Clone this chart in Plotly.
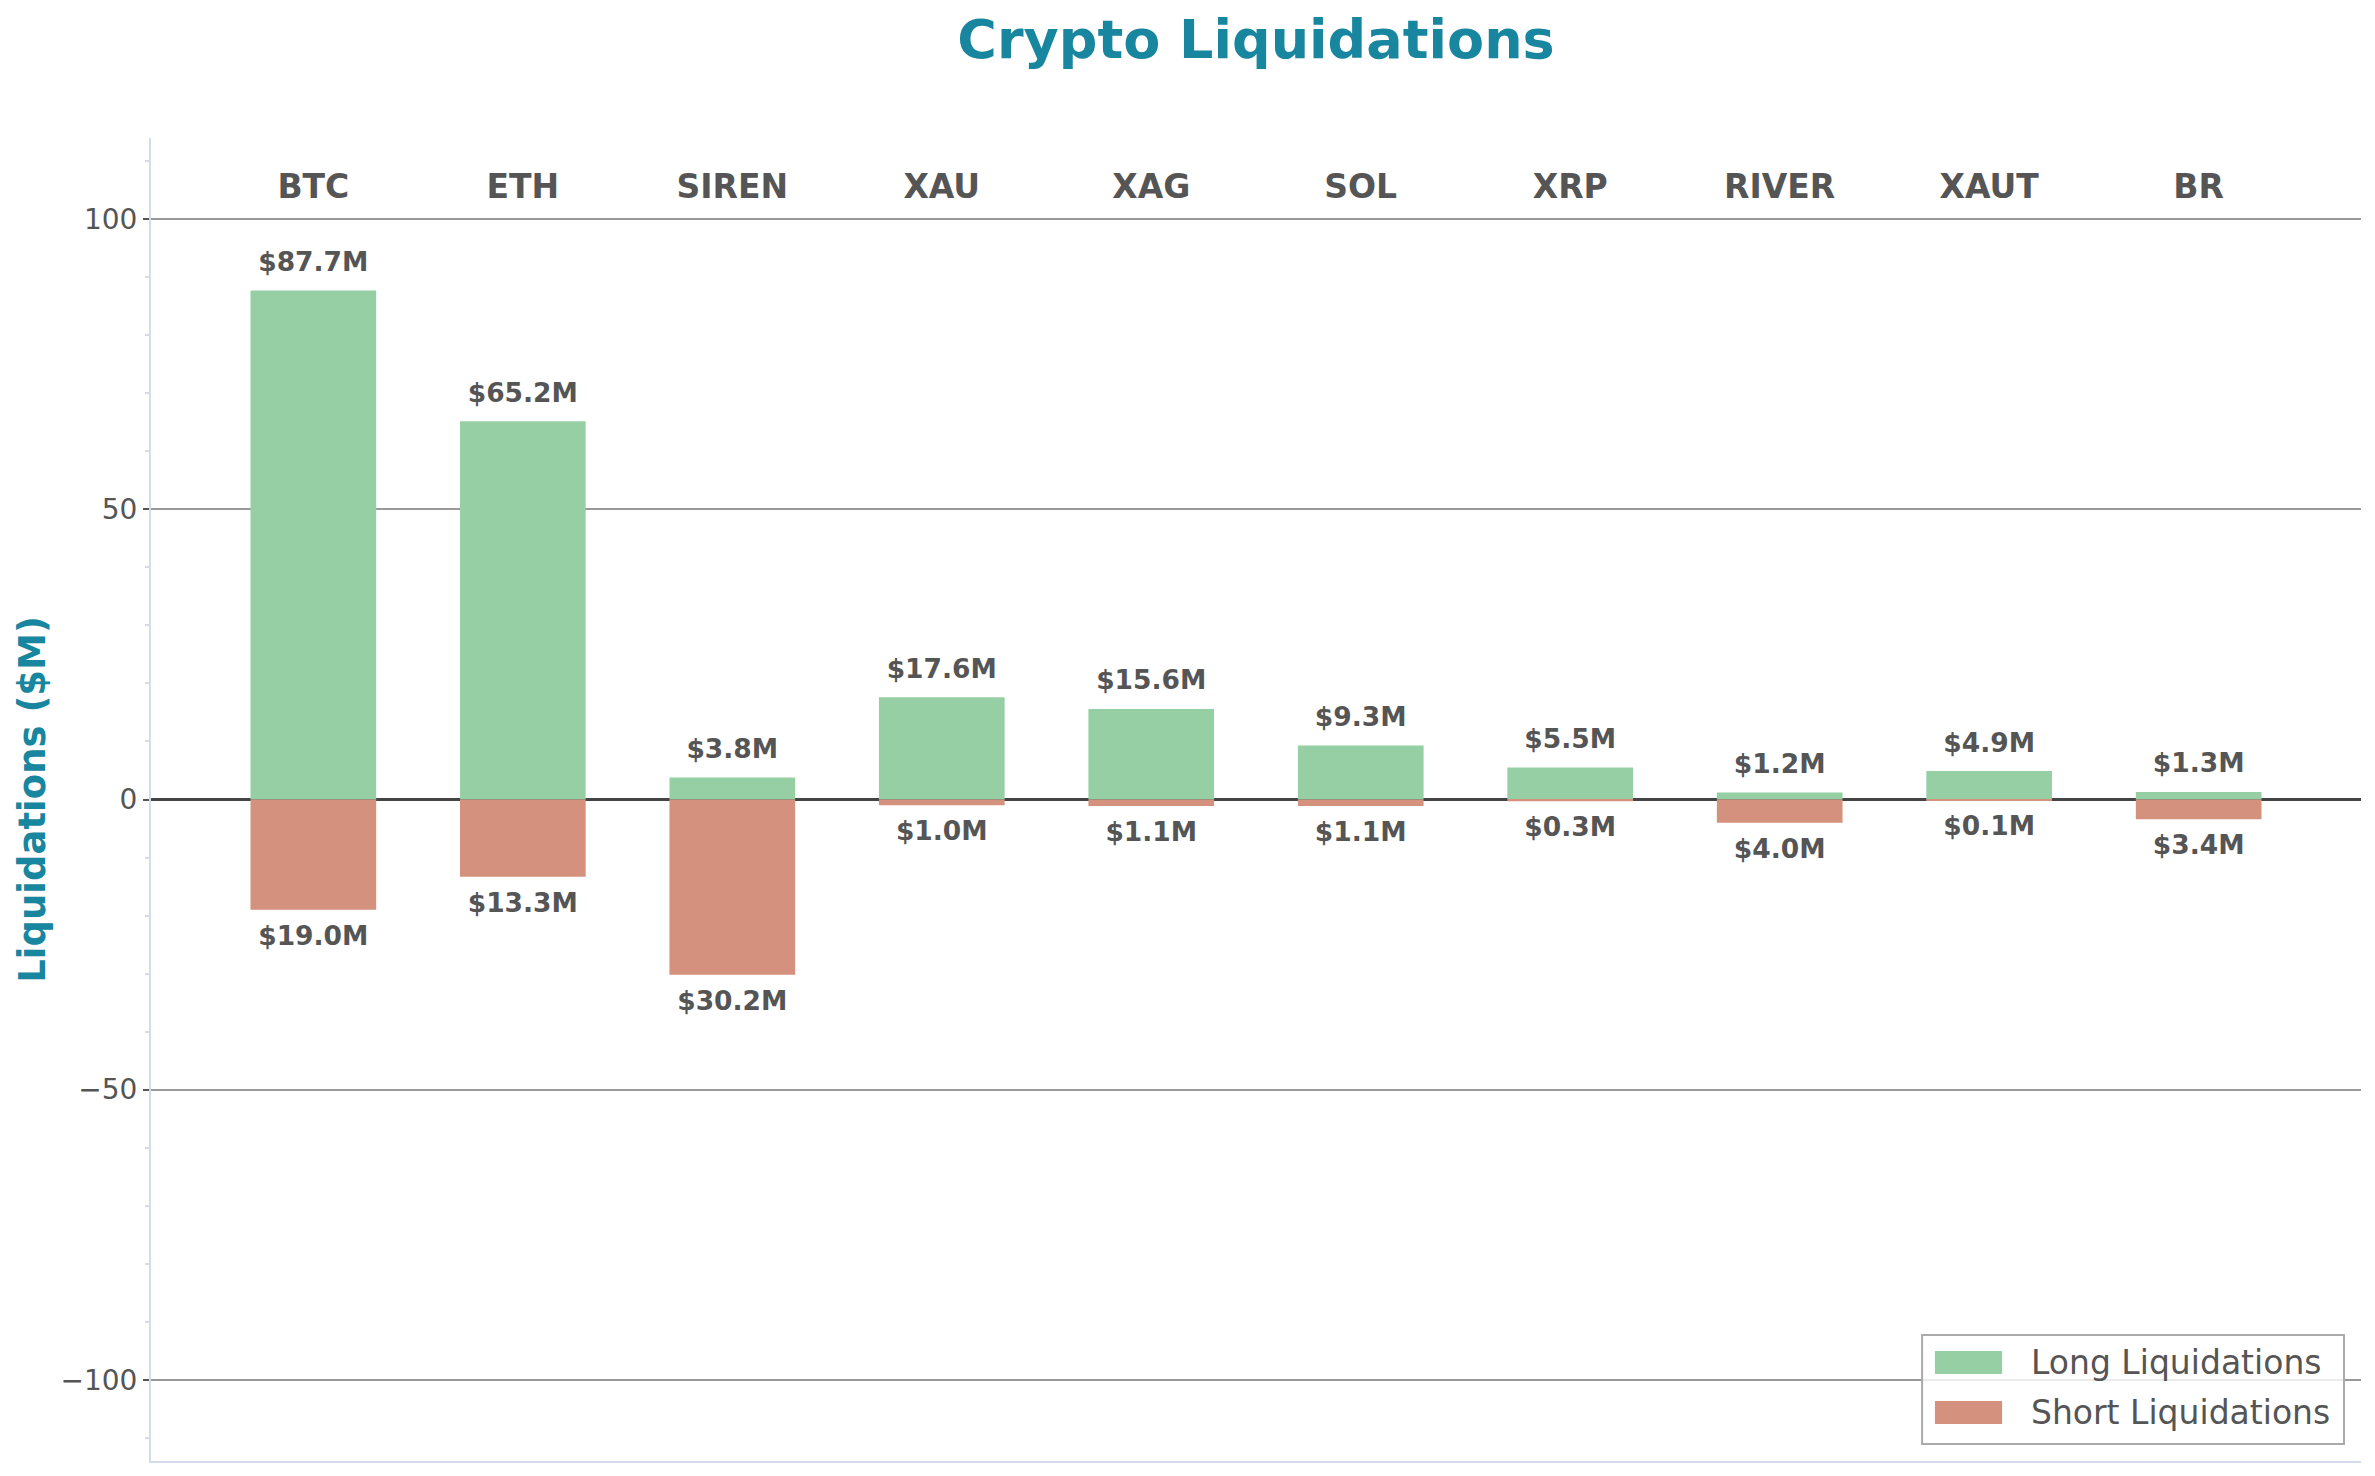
import plotly.graph_objects as go

coins = ["BTC", "ETH", "SIREN", "XAU", "XAG", "SOL", "XRP", "RIVER", "XAUT", "BR"]
long_liq = [87.7, 65.2, 3.8, 17.6, 15.6, 9.3, 5.5, 1.2, 4.9, 1.3]
short_liq = [19.0, 13.3, 30.2, 1.0, 1.1, 1.1, 0.3, 4.0, 0.1, 3.4]

GREEN = "#95cfa3"
RED = "#d4917d"
TEAL = "#17869e"
GREY = "#555555"
FONT = "DejaVu Sans"

fig = go.Figure()

fig.add_trace(go.Bar(x=coins, y=long_liq, width=0.6, marker_color=GREEN,
                     marker_line_width=0, name="Long Liquidations", showlegend=False))
fig.add_trace(go.Bar(x=coins, y=[-v for v in short_liq], width=0.6, marker_color=RED,
                     marker_line_width=0, name="Short Liquidations", showlegend=False))

# value labels above / below the bars
fig.add_trace(go.Scatter(
    x=coins, y=[v + 4.5 for v in long_liq], mode="text",
    text=[f"${v:.1f}M" for v in long_liq],
    textfont=dict(family=FONT, size=26.5, color=GREY, weight="bold"),
    showlegend=False, hoverinfo="skip",
))
fig.add_trace(go.Scatter(
    x=coins, y=[-v - 4.9 for v in short_liq], mode="text",
    text=[f"${v:.1f}M" for v in short_liq],
    textfont=dict(family=FONT, size=26.5, color=GREY, weight="bold"),
    showlegend=False, hoverinfo="skip",
))

# coin names across the top of the plot
fig.add_trace(go.Scatter(
    x=coins, y=[105.0] * len(coins), mode="text", text=coins,
    textfont=dict(family=FONT, size=33, color=GREY, weight="bold"),
    showlegend=False, hoverinfo="skip",
))

# legend drawn by hand so the swatches get the wide matplotlib look
fig.add_shape(type="rect", xref="paper", yref="paper",
              x0=0.8014, x1=0.9923, y0=0.0128, y1=0.0952,
              fillcolor="rgba(255,255,255,0.8)", line=dict(color="#aaaaaa", width=2))
legend_items = [("Long Liquidations", GREEN, 0.0658, 0.0831, 0.0748),
                ("Short Liquidations", RED, 0.0280, 0.0454, 0.0370)]
for label, color, y0, y1, ty in legend_items:
    fig.add_shape(type="rect", xref="paper", yref="paper",
                  x0=0.8072, x1=0.8376, y0=y0, y1=y1,
                  fillcolor=color, line_width=0)
    fig.add_annotation(xref="paper", yref="paper", x=0.8498, y=ty,
                       xanchor="left", yanchor="middle", text=label, showarrow=False,
                       font=dict(family=FONT, size=33, color=GREY))

fig.update_layout(
    width=2359,
    height=1460,
    barmode="overlay",
    plot_bgcolor="white",
    paper_bgcolor="white",
    margin=dict(l=143, r=6, t=130, b=7),
    font=dict(family=FONT, color=GREY, size=28),
    title=dict(
        text="Crypto Liquidations",
        x=0.5, xref="paper", xanchor="center",
        y=0.9785, yanchor="middle",
        font=dict(family=FONT, size=54, color=TEAL, weight="bold"),
    ),
    showlegend=False,
)

fig.update_xaxes(
    range=[-0.775, 9.775],
    showticklabels=False,
    ticks="",
    showgrid=False,
    zeroline=False,
    showline=True, linecolor="#d5dbe8", linewidth=2,
)

fig.update_yaxes(
    range=[-114, 114],
    tickvals=[-100, -50, 0, 50, 100],
    ticks="outside", ticklen=6, tickwidth=2, tickcolor=GREY,
    tickfont=dict(family=FONT, size=28, color=GREY),
    minor=dict(dtick=10, ticks="outside", ticklen=4, tickcolor="#d5dbe8", showgrid=False),
    showgrid=True, gridcolor="#999999", gridwidth=1.5,
    zeroline=True, zerolinecolor="#444444", zerolinewidth=3,
    showline=True, linecolor="#d5dbe8", linewidth=2,
    title=dict(text="Liquidations ($M)", standoff=4,
               font=dict(family=FONT, size=37, color=TEAL, weight="bold")),
)

fig.write_html("out.html")
